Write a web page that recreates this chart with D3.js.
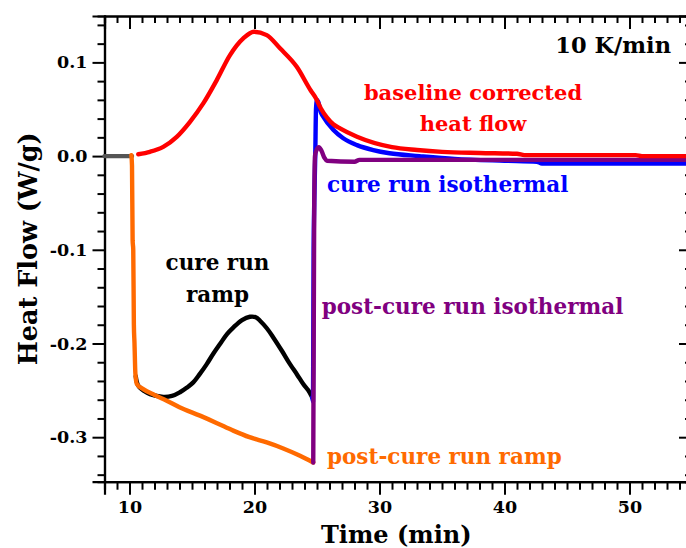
<!DOCTYPE html>
<html>
<head>
<meta charset="utf-8">
<script src="https://cdn.jsdelivr.net/npm/d3@7"></script>
<style>
  html, body { margin: 0; padding: 0; background: #fff; }
  svg { display: block; }
  text { font-family: "DejaVu Serif", serif; font-weight: bold; }
</style>
</head>
<body>
<svg id="chart" width="686" height="548"></svg>
<script>
// ---- data (time in min, heat flow in W/g) ----
const greyBaseline = [[8, 0], [10.2, 0]];

const postCureRamp = [
  [10.15, 0.001], [10.2, -0.01], [10.25, -0.09], [10.3, -0.1], [10.35, -0.18],
  [10.4, -0.2], [10.47, -0.232], [10.58, -0.243], [11.1, -0.2487], [12, -0.255],
  [12.98, -0.261], [14, -0.268], [15.64, -0.277], [17, -0.285], [18.3, -0.293],
  [19.6, -0.3], [20.98, -0.3056], [22.3, -0.312], [23.64, -0.3198], [24.7, -0.327]
];

const cureRamp = [
  [10.5, -0.235], [10.7, -0.245], [11.2, -0.251], [11.64, -0.254], [12.7, -0.257],
  [13.4, -0.256], [14.04, -0.252], [14.6, -0.247], [15.1, -0.2415], [15.6, -0.233],
  [16.18, -0.222], [16.7, -0.211], [17.24, -0.2006], [17.8, -0.19], [18.3, -0.183],
  [19, -0.175], [19.64, -0.1715], [20.1, -0.172], [20.44, -0.1757], [21, -0.184],
  [21.5, -0.1935], [22.2, -0.208], [22.84, -0.222], [23.4, -0.233], [23.9, -0.2433],
  [24.3, -0.25], [24.62, -0.2575]
];

const cureIso = [
  [24.62, -0.2575], [24.68, -0.262], [24.7, -0.2], [24.73, -0.1], [24.78, -0.05],
  [24.86, 0.0], [24.92, 0.05], [25.0, 0.06], [25.1, 0.058], [25.3, 0.047],
  [25.5, 0.042], [26.3, 0.028], [27.1, 0.019], [28.2, 0.0117], [29.5, 0.0064],
  [30.8, 0.003], [33.2, 0.0], [36, -0.003], [40, -0.005], [42.6, -0.006],
  [43, -0.008], [55, -0.008]
];

const postCureIso = [
  [24.7, -0.327], [24.72, -0.25], [24.75, -0.15], [24.78, -0.05], [24.84, 0.0],
  [24.95, 0.006], [25.15, 0.0095], [25.35, 0.006], [25.6, -0.002], [25.8, -0.005],
  [28, -0.006], [28.4, -0.004], [55, -0.004]
];

const baselineCorrected = [
  [10.7, 0.002], [11.64, 0.0046], [12.7, 0.0099], [13.78, 0.0206], [14.84, 0.0366],
  [15.9, 0.0562], [16.98, 0.0811], [18.04, 0.1078], [19.1, 0.1256], [19.96, 0.1327],
  [20.98, 0.1291], [22.04, 0.115], [23.38, 0.0953], [24.5, 0.07], [24.9, 0.062],
  [25.3, 0.051], [25.8, 0.041], [26.3, 0.034], [26.84, 0.0295], [28.2, 0.0206],
  [31, 0.0095], [33, 0.0065], [35, 0.0045], [38, 0.0033], [41, 0.0025],
  [41.6, 0.001], [50.5, 0.001], [51, 0.0], [55, 0.0]
];

const xMajorTicks = [10, 20, 30, 40, 50];
const xTickLabels = ["10", "20", "30", "40", "50"];
const yMajorTicks = [0.1, 0.0, -0.1, -0.2, -0.3];
const yTickLabels = ["0.1", "0.0", "-0.1", "-0.2", "-0.3"];

const xLabel = "Time (min)";
const yLabel = "Heat Flow (W/g)";

// ---- layout ----
const svg = d3.select("#chart");
const mLeft = 104.5, mRight = 692, mTop = 16, mBottom = 481.7;
const x = d3.scaleLinear().domain([8, 55]).range([mLeft, mRight]);
const y = d3.scaleLinear().domain([-0.3475, 0.1495]).range([mBottom, mTop]);

const xMinor = d3.range(8, 56, 1).filter(v => !xMajorTicks.includes(v));
const yMinor = d3.range(-34, 15, 2).map(v => v / 100).filter(v => !yMajorTicks.some(m => Math.abs(m - v) < 1e-9));

const bottomAxisMajor = d3.axisBottom(x).tickValues(xMajorTicks).tickSize(13)
  .tickFormat((d, i) => xTickLabels[i]).tickPadding(6);
const bottomAxisMinor = d3.axisBottom(x).tickValues(xMinor).tickSize(8).tickFormat("");
const topAxisMajor = d3.axisBottom(x).tickValues(xMajorTicks).tickSize(13).tickFormat("");
const topAxisMinor = d3.axisBottom(x).tickValues(xMinor).tickSize(7).tickFormat("");
const leftAxisMajor = d3.axisLeft(y).tickValues(yMajorTicks).tickSize(12)
  .tickFormat((d, i) => yTickLabels[i]).tickPadding(5);
const leftAxisMinor = d3.axisLeft(y).tickValues(yMinor).tickSize(7).tickFormat("");
const rightAxisMajor = d3.axisLeft(y).tickValues(yMajorTicks).tickSize(13).tickFormat("");
const rightAxisMinor = d3.axisLeft(y).tickValues(yMinor).tickSize(7).tickFormat("");

function styleAxis(g) {
  g.selectAll("path.domain").attr("stroke", "#000").attr("stroke-width", 2.2);
  g.selectAll(".tick line").attr("stroke", "#000").attr("stroke-width", 2);
  g.selectAll(".tick text").attr("fill", "#000")
    .style("font-family", "'DejaVu Serif', serif").style("font-weight", "bold")
    .style("font-size", "17.5px");
}

svg.append("g").attr("transform", `translate(0,${mBottom})`).call(bottomAxisMinor).call(styleAxis);
svg.append("g").attr("transform", `translate(0,${mBottom})`).call(bottomAxisMajor).call(styleAxis);
svg.append("g").attr("transform", `translate(0,${mTop})`).call(topAxisMinor).call(styleAxis);
svg.append("g").attr("transform", `translate(0,${mTop})`).call(topAxisMajor).call(styleAxis);
svg.append("g").attr("transform", `translate(${mLeft},0)`).call(leftAxisMinor).call(styleAxis);
svg.append("g").attr("transform", `translate(${mLeft},0)`).call(leftAxisMajor).call(styleAxis);
svg.append("g").attr("transform", `translate(${mRight},0)`).call(rightAxisMinor).call(styleAxis);
svg.append("g").attr("transform", `translate(${mRight},0)`).call(rightAxisMajor).call(styleAxis);

// ---- curves ----
const lineMono = d3.line().x(d => x(d[0])).y(d => y(d[1])).curve(d3.curveMonotoneX);
const lineSmooth = d3.line().x(d => x(d[0])).y(d => y(d[1])).curve(d3.curveCatmullRom.alpha(0.5));
const curves = [
  { data: greyBaseline, color: "#555555", gen: lineMono },
  { data: cureRamp, color: "#000000", gen: lineSmooth },
  { data: postCureRamp, color: "#ff6a00", gen: lineMono },
  { data: cureIso, color: "#0000ff", gen: lineMono },
  { data: postCureIso, color: "#800080", gen: lineMono },
  { data: baselineCorrected, color: "#ff0000", gen: lineMono }
];
const plot = svg.append("g");
curves.forEach(c => {
  plot.append("path").datum(c.data).attr("d", c.gen)
    .attr("fill", "none").attr("stroke", c.color).attr("stroke-width", 4.4)
    .attr("stroke-linejoin", "round").attr("stroke-linecap", "round");
});

// ---- annotations ----
const ann = svg.append("g").style("font-size", "21.5px");
ann.append("text").attr("x", 671).attr("y", 53).attr("text-anchor", "end").attr("fill", "#000")
  .style("font-size", "22.5px").text("10 K/min");
ann.append("text").attr("x", 473).attr("y", 100).attr("text-anchor", "middle").attr("fill", "#ff0000")
  .style("font-size", "21px").text("baseline corrected");
ann.append("text").attr("x", 473).attr("y", 131).attr("text-anchor", "middle").attr("fill", "#ff0000")
  .style("font-size", "21px").text("heat flow");
ann.append("text").attr("x", 327).attr("y", 192).attr("fill", "#0000ff").text("cure run isothermal");
ann.append("text").attr("x", 217.5).attr("y", 270).attr("text-anchor", "middle").attr("fill", "#000").text("cure run");
ann.append("text").attr("x", 217.5).attr("y", 302).attr("text-anchor", "middle").attr("fill", "#000").text("ramp");
ann.append("text").attr("x", 472.5).attr("y", 314).attr("text-anchor", "middle").attr("fill", "#800080").text("post-cure run isothermal");
ann.append("text").attr("x", 327).attr("y", 464).attr("fill", "#ff6a00").text("post-cure run ramp");

// ---- axis titles ----
svg.append("text").attr("x", (mLeft + mRight) / 2 - 2).attr("y", 543)
  .attr("text-anchor", "middle").style("font-size", "24px").attr("fill", "#000").text(xLabel);
svg.append("text").attr("transform", `translate(37,${(mTop + mBottom) / 2}) rotate(-90)`)
  .attr("text-anchor", "middle").style("font-size", "25.5px").attr("fill", "#000").text(yLabel);
</script>
</body>
</html>
